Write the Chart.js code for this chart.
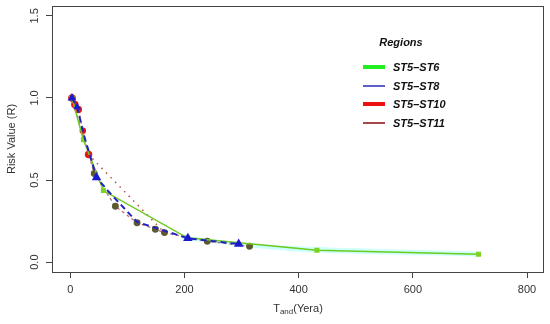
<!DOCTYPE html>
<html>
<head>
<meta charset="utf-8">
<script src="https://cdn.jsdelivr.net/npm/chart.js@4/dist/chart.umd.min.js"></script>
<style>
  html, body { margin: 0; padding: 0; background: #fff; }
  #wrap { width: 550px; height: 324px; }
</style>
</head>
<body>
<div id="wrap"><canvas id="riskChart" width="550" height="324"></canvas></div>
<script>
// dados
const xTicks = [0, 200, 400, 600, 800];
const yTicks = [0.0, 0.5, 1.0, 1.5];
const regionNames = ['ST5–ST6', 'ST5–ST8', 'ST5–ST10', 'ST5–ST11'];
const legendColors = ['#22ee22', '#2a2ab8', '#ee1111', '#a84848'];

const st6 = [[3, 1.0], [23, 0.745], [58, 0.436], [205, 0.148], [432, 0.073], [715, 0.048]];
const st8 = [[3, 1.0], [12, 0.945], [25, 0.76], [46, 0.515], [67, 0.43], [102, 0.30], [117, 0.245], [206, 0.145], [295, 0.11]];
const st10 = [[3, 1.0], [8, 0.96], [14, 0.93], [22, 0.80], [32, 0.655], [165, 0.18]];
const st11 = [[3, 1.0], [42, 0.54], [79, 0.34], [117, 0.24], [149, 0.20], [165, 0.18], [240, 0.127], [314, 0.097]];
// faixa azul clara em volta da curva ST6
const bandX = [195, 300, 432, 715];
const bandUpper = [0.162, 0.118, 0.092, 0.064];
const bandLower = [0.136, 0.096, 0.058, 0.034];

// marcadores visíveis (0 = só a linha)
const st8Radius = [3, 2.5, 0, 3.5, 0, 0, 0, 3.5, 3.5];
const st10Radius = [3, 3, 3, 2.5, 3, 0];

const pts = arr => arr.map(p => ({ x: p[0], y: p[1] }));
const fontFam = '"Liberation Sans", Arial, Helvetica, sans-serif';

// caixa, rótulos girados e legenda estilo R
const rStyle = {
  id: 'rStyle',
  afterDraw(chart) {
    const ctx = chart.ctx;
    const a = chart.chartArea;
    const ys = chart.scales.y;
    ctx.save();
    ctx.strokeStyle = '#444';
    ctx.lineWidth = 1;
    ctx.strokeRect(a.left + 0.5, a.top + 0.5, a.right - a.left, a.bottom - a.top);

    // rótulos do eixo y girados
    ctx.fillStyle = '#333';
    ctx.font = '11px ' + fontFam;
    ctx.textAlign = 'center';
    ctx.textBaseline = 'middle';
    yTicks.forEach(v => {
      const py = ys.getPixelForValue(v);
      ctx.save();
      ctx.translate(35, py);
      ctx.rotate(-Math.PI / 2);
      ctx.fillText(v.toFixed(1), 0, 0);
      ctx.restore();
    });

    // título do eixo y
    ctx.save();
    ctx.translate(12, 139);
    ctx.rotate(-Math.PI / 2);
    ctx.fillText('Risk Value (R)', 0, 0);
    ctx.restore();

    // título do eixo x com subscrito
    ctx.textAlign = 'left';
    const t1 = 'T', t2 = 'and', t3 = '(Yera)';
    ctx.font = '11px ' + fontFam;
    const w1 = ctx.measureText(t1).width;
    const w3 = ctx.measureText(t3).width;
    ctx.font = '8px ' + fontFam;
    const w2 = ctx.measureText(t2).width;
    let x0 = 298 - (w1 + w2 + w3) / 2;
    ctx.font = '11px ' + fontFam;
    ctx.fillText(t1, x0, 309);
    ctx.font = '8px ' + fontFam;
    ctx.fillText(t2, x0 + w1, 312);
    ctx.font = '11px ' + fontFam;
    ctx.fillText(t3, x0 + w1 + w2, 309);

    // legenda
    ctx.font = 'italic bold 11px ' + fontFam;
    ctx.fillStyle = '#111';
    ctx.textAlign = 'center';
    ctx.fillText('Regions', 401, 43);
    const rowY = [67, 86, 104, 123];
    const widths = [4, 1.5, 4, 2];
    ctx.textAlign = 'left';
    regionNames.forEach((name, i) => {
      ctx.strokeStyle = legendColors[i];
      ctx.lineWidth = widths[i];
      ctx.beginPath();
      ctx.moveTo(363, rowY[i]);
      ctx.lineTo(385, rowY[i]);
      ctx.stroke();
      ctx.fillStyle = '#111';
      ctx.fillText(name, 393, rowY[i] + 1);
    });
    ctx.restore();
  }
};

const ctx = document.getElementById('riskChart').getContext('2d');
const riskChart = new Chart(ctx, {
  type: 'scatter',
  data: {
    datasets: [
      {
        label: 'bandUpper',
        data: bandX.map((x, i) => ({ x: x, y: bandUpper[i] })),
        showLine: true, borderWidth: 0, pointRadius: 0,
        borderColor: 'rgba(0,0,0,0)',
        backgroundColor: 'rgba(205,255,252,1)',
        fill: '+1', tension: 0.3, order: 10
      },
      {
        label: 'bandLower',
        data: bandX.map((x, i) => ({ x: x, y: bandLower[i] })),
        showLine: true, borderWidth: 0, pointRadius: 0,
        borderColor: 'rgba(0,0,0,0)', fill: false, tension: 0.3, order: 10
      },
      {
        label: regionNames[3],
        data: pts(st11),
        showLine: true, order: 4,
        borderColor: '#c86a6a', borderWidth: 1.3, borderDash: [3, 3],
        pointStyle: 'circle', pointRadius: 2.8,
        pointBackgroundColor: '#5e5a32', pointBorderColor: '#5e5a32'
      },
      {
        label: regionNames[2],
        data: pts(st10),
        showLine: true, order: 3,
        borderColor: '#b05050', borderWidth: 1.5, borderDash: [1.5, 5],
        pointStyle: 'circle', pointRadius: st10Radius,
        pointBackgroundColor: '#e81818', pointBorderColor: '#e81818'
      },
      {
        label: regionNames[0],
        data: pts(st6),
        showLine: true, order: 2,
        borderColor: '#6ccb1e', borderWidth: 1.5,
        pointStyle: 'rect', pointRadius: 2.5,
        pointBackgroundColor: '#7ed321', pointBorderColor: '#7ed321'
      },
      {
        label: regionNames[1],
        data: pts(st8),
        showLine: true, order: 1,
        borderColor: '#2323c0', borderWidth: 2, borderDash: [6, 4],
        pointStyle: 'triangle', pointRadius: st8Radius,
        pointBackgroundColor: '#1a1ad0', pointBorderColor: '#1a1ad0'
      }
    ]
  },
  options: {
    responsive: false,
    animation: false,
    layout: { padding: { top: 6, right: 7, left: 0, bottom: 0 } },
    plugins: { legend: { display: false }, tooltip: { enabled: false } },
    scales: {
      x: {
        type: 'linear', min: -32, max: 828,
        afterBuildTicks: s => { s.ticks = xTicks.map(v => ({ value: v })); },
        afterFit: s => { s.height = 52; },
        grid: { drawOnChartArea: false, drawTicks: true, tickLength: 6, color: '#444' },
        border: { display: false },
        ticks: { color: '#333', padding: 5, maxRotation: 0, font: { family: fontFam, size: 11 } }
      },
      y: {
        type: 'linear', min: -0.06, max: 1.56,
        afterBuildTicks: s => { s.ticks = yTicks.map(v => ({ value: v })); },
        afterFit: s => { s.width = 52; },
        grid: { drawOnChartArea: false, drawTicks: true, tickLength: 6, color: '#444' },
        border: { display: false },
        ticks: { display: false }
      }
    }
  },
  plugins: [rStyle]
});
</script>
</body>
</html>
